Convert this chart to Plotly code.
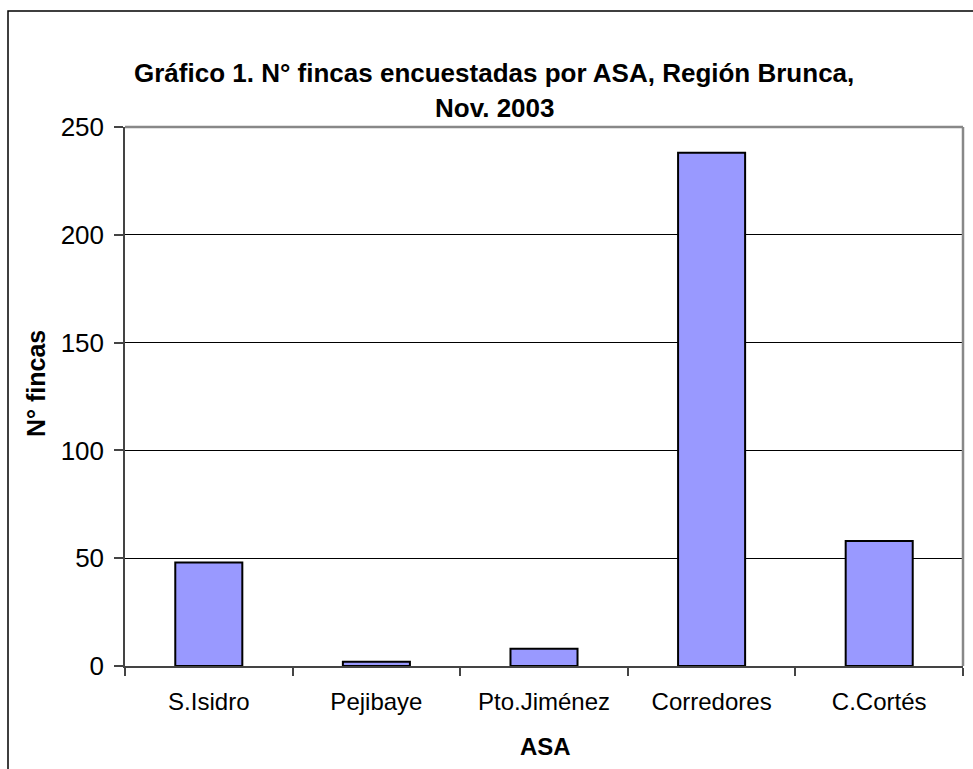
import plotly.graph_objects as go

categories = ["S.Isidro", "Pejibaye", "Pto.Jiménez", "Corredores", "C.Cortés"]
fincas = [48, 2, 8, 238, 58]
y_ticks = [0, 50, 100, 150, 200, 250]

W, H = 973, 769
ML, MR, MT, MB = 125, 10, 127, 103
PW, PH = W - ML - MR, H - MT - MB

def px(x):
    return (x - ML) / PW

def py(y):
    return (H - MB - y) / PH

FONT = "Liberation Sans, Arial, sans-serif"

fig = go.Figure(go.Bar(
    x=categories, y=fincas,
    marker=dict(color="#9999FF", line=dict(color="black", width=2)),
))

fig.update_layout(
    width=W, height=H,
    margin=dict(l=ML, r=MR, t=MT, b=MB),
    paper_bgcolor="white", plot_bgcolor="white",
    bargap=0.6, showlegend=False,
    font=dict(family=FONT, color="black"),
    xaxis=dict(
        showline=True, linecolor="#444", linewidth=2,
        ticks="outside", ticklen=8, tickcolor="#444", tickwidth=1.5,
        tickson="boundaries", showgrid=False,
        tickfont=dict(size=24, family=FONT, color="black"),
        ticklabelstandoff=13,
    ),
    yaxis=dict(
        range=[0, 250], tickvals=y_ticks,
        showline=True, linecolor="#444", linewidth=1.5,
        ticks="outside", ticklen=9, tickcolor="#444", tickwidth=1.5,
        showgrid=True, gridcolor="black", gridwidth=1,
        zeroline=False,
        tickfont=dict(size=26, family=FONT, color="black"),
        ticklabelstandoff=5,
    ),
    shapes=[
        # outer chart frame
        dict(type="rect", xref="paper", yref="paper",
             x0=px(8), y0=py(H + 20), x1=px(W + 20), y1=py(11),
             line=dict(color="black", width=1.5), layer="below"),
        # plot area top / right border
        dict(type="line", xref="paper", yref="paper", x0=0, x1=1, y0=1, y1=1,
             line=dict(color="#888", width=2.5)),
        dict(type="line", xref="paper", yref="paper", x0=1, x1=1, y0=0, y1=1,
             line=dict(color="#888", width=2.5)),
    ],
    annotations=[
        dict(text="<b>Gráfico 1. N° fincas encuestadas por ASA, Región Brunca,</b>",
             xref="paper", yref="paper", x=px(494), y=py(73),
             xanchor="center", yanchor="middle", showarrow=False,
             font=dict(size=26, family=FONT, color="black")),
        dict(text="<b>Nov. 2003</b>",
             xref="paper", yref="paper", x=px(494), y=py(108),
             xanchor="center", yanchor="middle", showarrow=False,
             font=dict(size=26, family=FONT, color="black")),
        dict(text="<b>N° fincas</b>", textangle=-90,
             xref="paper", yref="paper", x=px(36), y=py(384),
             xanchor="center", yanchor="middle", showarrow=False,
             font=dict(size=25, family=FONT, color="black")),
        dict(text="<b>ASA</b>",
             xref="paper", yref="paper", x=px(545), y=py(746),
             xanchor="center", yanchor="middle", showarrow=False,
             font=dict(size=24, family=FONT, color="black")),
    ],
)

fig.write_html(
    "out.html",
    config={"displayModeBar": False},
    post_script="document.body.style.margin='0';document.body.style.overflow='hidden';",
)
